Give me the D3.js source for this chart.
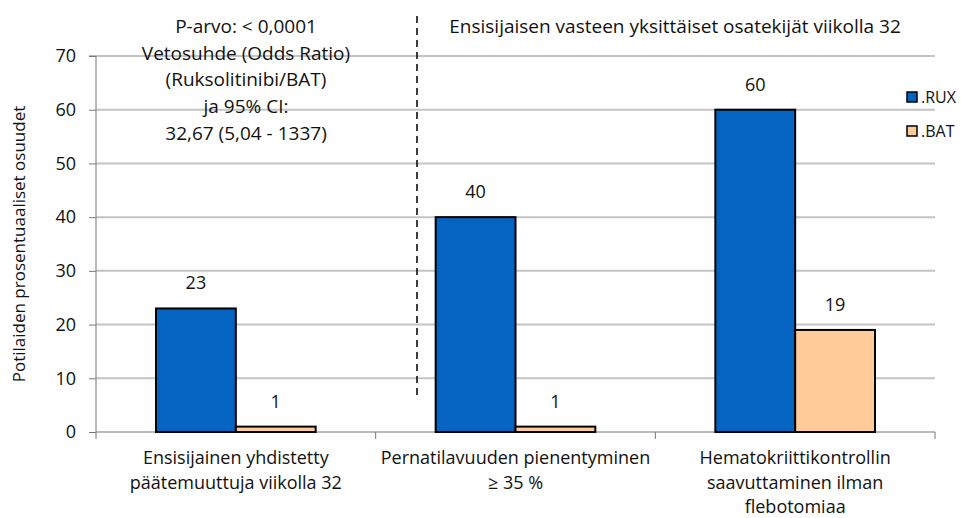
<!DOCTYPE html>
<html><head><meta charset="utf-8">
<script src="https://cdn.jsdelivr.net/npm/d3@7"></script>
<style>body{margin:0;background:#fff}svg{display:block}text{font-family:"Open Sans","Noto Sans",sans-serif;fill:#111}</style>
</head><body>
<script>
const categories = [
  ["Ensisijainen yhdistetty", "päätemuuttuja viikolla 32"],
  ["Pernatilavuuden pienentyminen", "≥ 35 %"],
  ["Hematokriittikontrollin", "saavuttaminen ilman", "flebotomiaa"]
];
const seriesNames = [".RUX", ".BAT"];
const ruxValues = [23, 40, 60];
const batValues = [1, 1, 19];
const yTicks = [0, 10, 20, 30, 40, 50, 60, 70];
const yTitle = "Potilaiden prosentuaaliset osuudet";
const annotation = ["P-arvo: < 0,0001", "Vetosuhde (Odds Ratio)", "(Ruksolitinibi/BAT)", "ja 95% CI:", "32,67 (5,04 - 1337)"];
const header = "Ensisijaisen vasteen yksittäiset osatekijät viikolla 32";
const colors = ["#0563C1", "#FFCC99"];

const W = 961, H = 518;
const svg = d3.select("body").append("svg").attr("width", W).attr("height", H);
const x0 = d3.scaleBand().domain(d3.range(categories.length)).range([96, 935]).paddingInner(0).paddingOuter(0);
const x1 = d3.scaleBand().domain(d3.range(seriesNames.length)).range([60, x0.bandwidth() - 60]);
const y = d3.scaleLinear().domain([0, 70]).range([432, 56]);

// gridlines
svg.append("g").selectAll("line").data(yTicks.filter(d => d > 0)).join("line")
  .attr("x1", 96).attr("x2", 935).attr("y1", d => y(d)).attr("y2", d => y(d))
  .attr("stroke", "#c4c4c4").attr("stroke-width", 2);

// y axis
const ya = svg.append("g").attr("transform", "translate(96,0)")
  .call(d3.axisLeft(y).tickValues(yTicks).tickSize(7).tickPadding(13));
ya.select(".domain").attr("stroke", "#777").attr("d", `M-7,${y(70)}H0V${y(0)}`);
ya.selectAll(".tick line").attr("stroke", "#777");
ya.selectAll("text").attr("font-size", 18).style("font-family", '"Open Sans",sans-serif').attr("fill", "#111");

// x axis
svg.append("line").attr("x1", 96).attr("x2", 935).attr("y1", 432).attr("y2", 432).attr("stroke", "#777").attr("stroke-width", 1);
const bounds = d3.range(categories.length + 1).map(i => i < categories.length ? x0(i) : x0(i - 1) + x0.bandwidth());
svg.append("g").selectAll("line").data(bounds).join("line")
  .attr("x1", d => d).attr("x2", d => d).attr("y1", 432).attr("y2", 439).attr("stroke", "#777");

// bars
const data = [ruxValues, batValues];
data.forEach((vals, s) => {
  const g = svg.append("g");
  g.selectAll("rect").data(vals).join("rect")
    .attr("x", (d, i) => x0(i) + x1(s))
    .attr("y", d => y(d))
    .attr("width", x1.bandwidth())
    .attr("height", d => y(0) - y(d))
    .attr("fill", colors[s]).attr("stroke", "#000").attr("stroke-width", 2);
  g.selectAll("text").data(vals).join("text")
    .attr("x", (d, i) => x0(i) + x1(s) + x1.bandwidth() / 2)
    .attr("y", d => y(d) - 19)
    .attr("text-anchor", "middle").attr("font-size", 18).text(d => d);
});

// category labels
categories.forEach((lines, i) => {
  const t = svg.append("text").attr("text-anchor", "middle").attr("font-size", 18);
  lines.forEach((l, j) => t.append("tspan").attr("x", x0(i) + x0.bandwidth() / 2).attr("y", 464 + j * 24.5).text(l));
});

// y title
svg.append("text").attr("transform", "translate(25,244) rotate(-90)").attr("text-anchor", "middle")
  .attr("font-size", 17).text(yTitle);

// annotation
const at = svg.append("text").attr("text-anchor", "middle").attr("font-size", 19);
annotation.forEach((l, j) => at.append("tspan").attr("x", 246).attr("y", 33 + j * 26.7).text(l));

// dashed line
svg.append("line").attr("x1", 417).attr("x2", 417).attr("y1", 16).attr("y2", 398)
  .attr("stroke", "#000").attr("stroke-width", 1.5).attr("stroke-dasharray", "7,5");

svg.append("text").attr("x", 675).attr("y", 33).attr("text-anchor", "middle").attr("font-size", 19).text(header);

// legend
seriesNames.forEach((n, i) => {
  const ly = 97 + i * 34;
  svg.append("rect").attr("x", 907).attr("y", ly - 5).attr("width", 10).attr("height", 10)
    .attr("fill", colors[i]).attr("stroke", "#000").attr("stroke-width", 1.5);
  svg.append("text").attr("x", 921).attr("y", ly + 6).attr("font-size", 16).text(n);
});
</script>
</body></html>
